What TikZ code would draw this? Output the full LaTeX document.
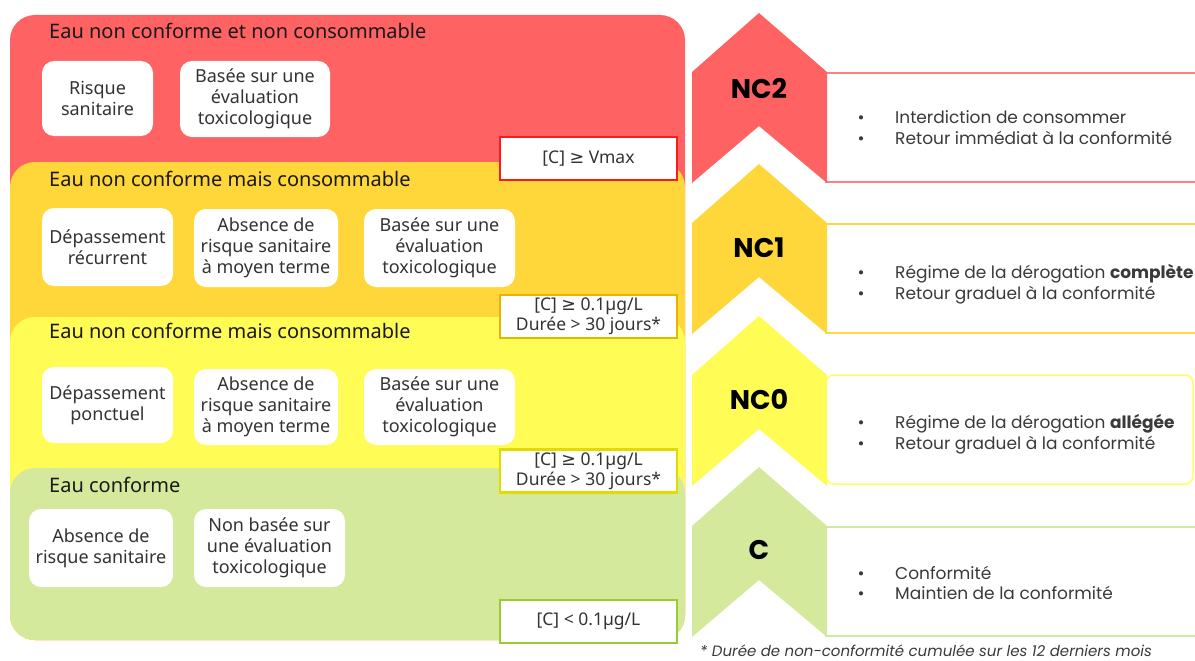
\documentclass[tikz,border=0pt]{standalone}
\usepackage{fontspec}
\setmainfont{Noto Sans}
\newfontfamily\rfont{Poppins}
\newfontfamily\symfont{DejaVu Sans}
\newcommand{\mygeq}{{\symfont ≥}}
\definecolor{cred}{HTML}{FF6262}
\definecolor{corange}{HTML}{FFD73A}
\definecolor{cyellow}{HTML}{FFFC55}
\definecolor{cgreen}{HTML}{D5E99C}
\definecolor{bred}{HTML}{FF1A1A}
\definecolor{borange}{HTML}{E8B400}
\definecolor{byellow}{HTML}{E3DA00}
\definecolor{bgreen}{HTML}{99CC33}
\definecolor{lred}{HTML}{FF8080}
\definecolor{lorange}{HTML}{FFD54A}
\definecolor{lyellow}{HTML}{FFFF60}
\definecolor{lgreen}{HTML}{D2E8A0}
\definecolor{txt}{HTML}{333333}
\definecolor{rtxt}{HTML}{3A3A3A}
\tikzset{
  layer/.style={rounded corners=25pt},
  ibox/.style={fill=white, rounded corners=12pt, align=center, text=txt,
    font=\fontsize{18}{21}\selectfont, inner sep=0pt},
  crit/.style={fill=white, line width=2.5pt, align=center, text=txt,
    font=\fontsize{17.5}{20}\selectfont, minimum width=177pt, minimum height=43pt, inner sep=0pt},
  ttl/.style={anchor=base west, inner sep=0pt, font=\fontsize{20}{22}\selectfont, text=black!90},
  lbl/.style={font=\rfont\bfseries\fontsize{27}{27}\selectfont, inner sep=0pt, text=black},
  bul/.style={anchor=base west, inner sep=0pt, font=\rfont\fontsize{17}{20}\selectfont, text=rtxt},
  dot/.style={anchor=base, inner sep=0pt, font=\rfont\fontsize{17}{20}\selectfont, text=rtxt},
  desc/.style={line width=1.5pt, fill=white},
}
\begin{document}
\begin{tikzpicture}[x=1pt, y=-1pt]
\useasboundingbox (0,0) rectangle (1195,661);
\fill[white] (0,0) rectangle (1195,661);
% ---- left panel layers
\fill[cred, layer] (10,15) rectangle (685,640);
\fill[corange, layer] (10,162) rectangle (685,640);
\fill[cyellow, layer] (10,317) rectangle (685,640);
\fill[cgreen, layer] (10,468) rectangle (685,640);
% titles
\node[ttl] (t2) at (49,39) {Eau non conforme et non consommable};
\node[ttl] (t1) at (49,186) {Eau non conforme mais consommable};
\node[ttl] (t0) at (49,338) {Eau non conforme mais consommable};
\node[ttl] (tc) at (49,492) {Eau conforme};
% inner boxes
\node[ibox, minimum width=111pt, minimum height=75pt] (r1) at (97.5,98.5) {Risque\\sanitaire};
\node[ibox, minimum width=150pt, minimum height=76pt] (r2) at (255,99) {Basée sur une\\évaluation\\toxicologique};
\node[ibox, minimum width=131pt, minimum height=78pt] (o1) at (107.5,247) {Dépassement\\récurrent};
\node[ibox, minimum width=144pt, minimum height=78pt] (o2) at (266,248) {Absence de\\risque sanitaire\\à moyen terme};
\node[ibox, minimum width=151pt, minimum height=78pt] (o3) at (439.5,248) {Basée sur une\\évaluation\\toxicologique};
\node[ibox, minimum width=131pt, minimum height=76pt] (y1) at (107.5,405) {Dépassement\\ponctuel};
\node[ibox, minimum width=144pt, minimum height=76pt] (y2) at (266,407) {Absence de\\risque sanitaire\\à moyen terme};
\node[ibox, minimum width=151pt, minimum height=76pt] (y3) at (439.5,407) {Basée sur une\\évaluation\\toxicologique};
\node[ibox, minimum width=144pt, minimum height=78pt] (g1) at (101,548) {Absence de\\risque sanitaire};
\node[ibox, minimum width=151pt, minimum height=78pt] (g2) at (269.5,548) {Non basée sur\\une évaluation\\toxicologique};
% criteria boxes
\node[crit, draw=bred] (c2) at (588.5,158.5) {[C] \mygeq{} Vmax};
\node[crit, draw=borange] (c1) at (588.5,316.5) {[C] \mygeq{} 0.1µg/L\\Durée > 30 jours*};
\node[crit, draw=byellow] (c0) at (588.5,471) {[C] \mygeq{} 0.1µg/L\\Durée > 30 jours*};
\node[crit, draw=bgreen] (cc) at (588.5,621.5) {[C] < 0.1µg/L};
% ---- right side: description boxes
\draw[desc, draw=lred] (826,73) rectangle (1210,182);
\draw[desc, draw=lorange] (826,224) rectangle (1210,333);
\draw[desc, draw=lyellow, rounded corners=8pt] (826,375) rectangle (1193,484);
\draw[desc, draw=lgreen] (826,527) rectangle (1210,636);
% chevrons
\foreach \T/\col in {13/cred, 164/corange, 316/cyellow, 467/cgreen}{
  \fill[\col] (692,\T+59) -- (759,\T) -- (827,\T+59) -- (827,\T+170) -- (759,\T+113) -- (692,\T+170) -- cycle;
}
\node[lbl] (n2) at (759,88) {NC2};
\node[lbl] (n1) at (759,248) {NC1};
\node[lbl] (n0) at (759,400) {NC0};
\node[lbl] (nc) at (759,550) {C};
% bullets
\node[dot] (d21) at (861,124) {•};
\node[bul] (b21) at (895,124) {Interdiction de consommer};
\node[dot] (d22) at (861,144) {•};
\node[bul] (b22) at (895,144) {Retour immédiat à la conformité};
\node[dot] (d11) at (861,278) {•};
\node[bul] (b11) at (895,278) {Régime de la dérogation \textbf{complète}};
\node[dot] (d12) at (861,299) {•};
\node[bul] (b12) at (895,299) {Retour graduel à la conformité};
\node[dot] (d01) at (861,428) {•};
\node[bul] (b01) at (895,428) {Régime de la dérogation \textbf{allégée}};
\node[dot] (d02) at (861,449) {•};
\node[bul] (b02) at (895,449) {Retour graduel à la conformité};
\node[dot] (dc1) at (861,579) {•};
\node[bul] (bc1) at (895,579) {Conformité};
\node[dot] (dc2) at (861,599) {•};
\node[bul] (bc2) at (895,599) {Maintien de la conformité};
% footnote
\node[anchor=base west, inner sep=0pt, font=\rfont\itshape\fontsize{15}{16}\selectfont, text=rtxt] (fn) at (700,656) {* Durée de non-conformité cumulée sur les 12 derniers mois};
\end{tikzpicture}
\end{document}
